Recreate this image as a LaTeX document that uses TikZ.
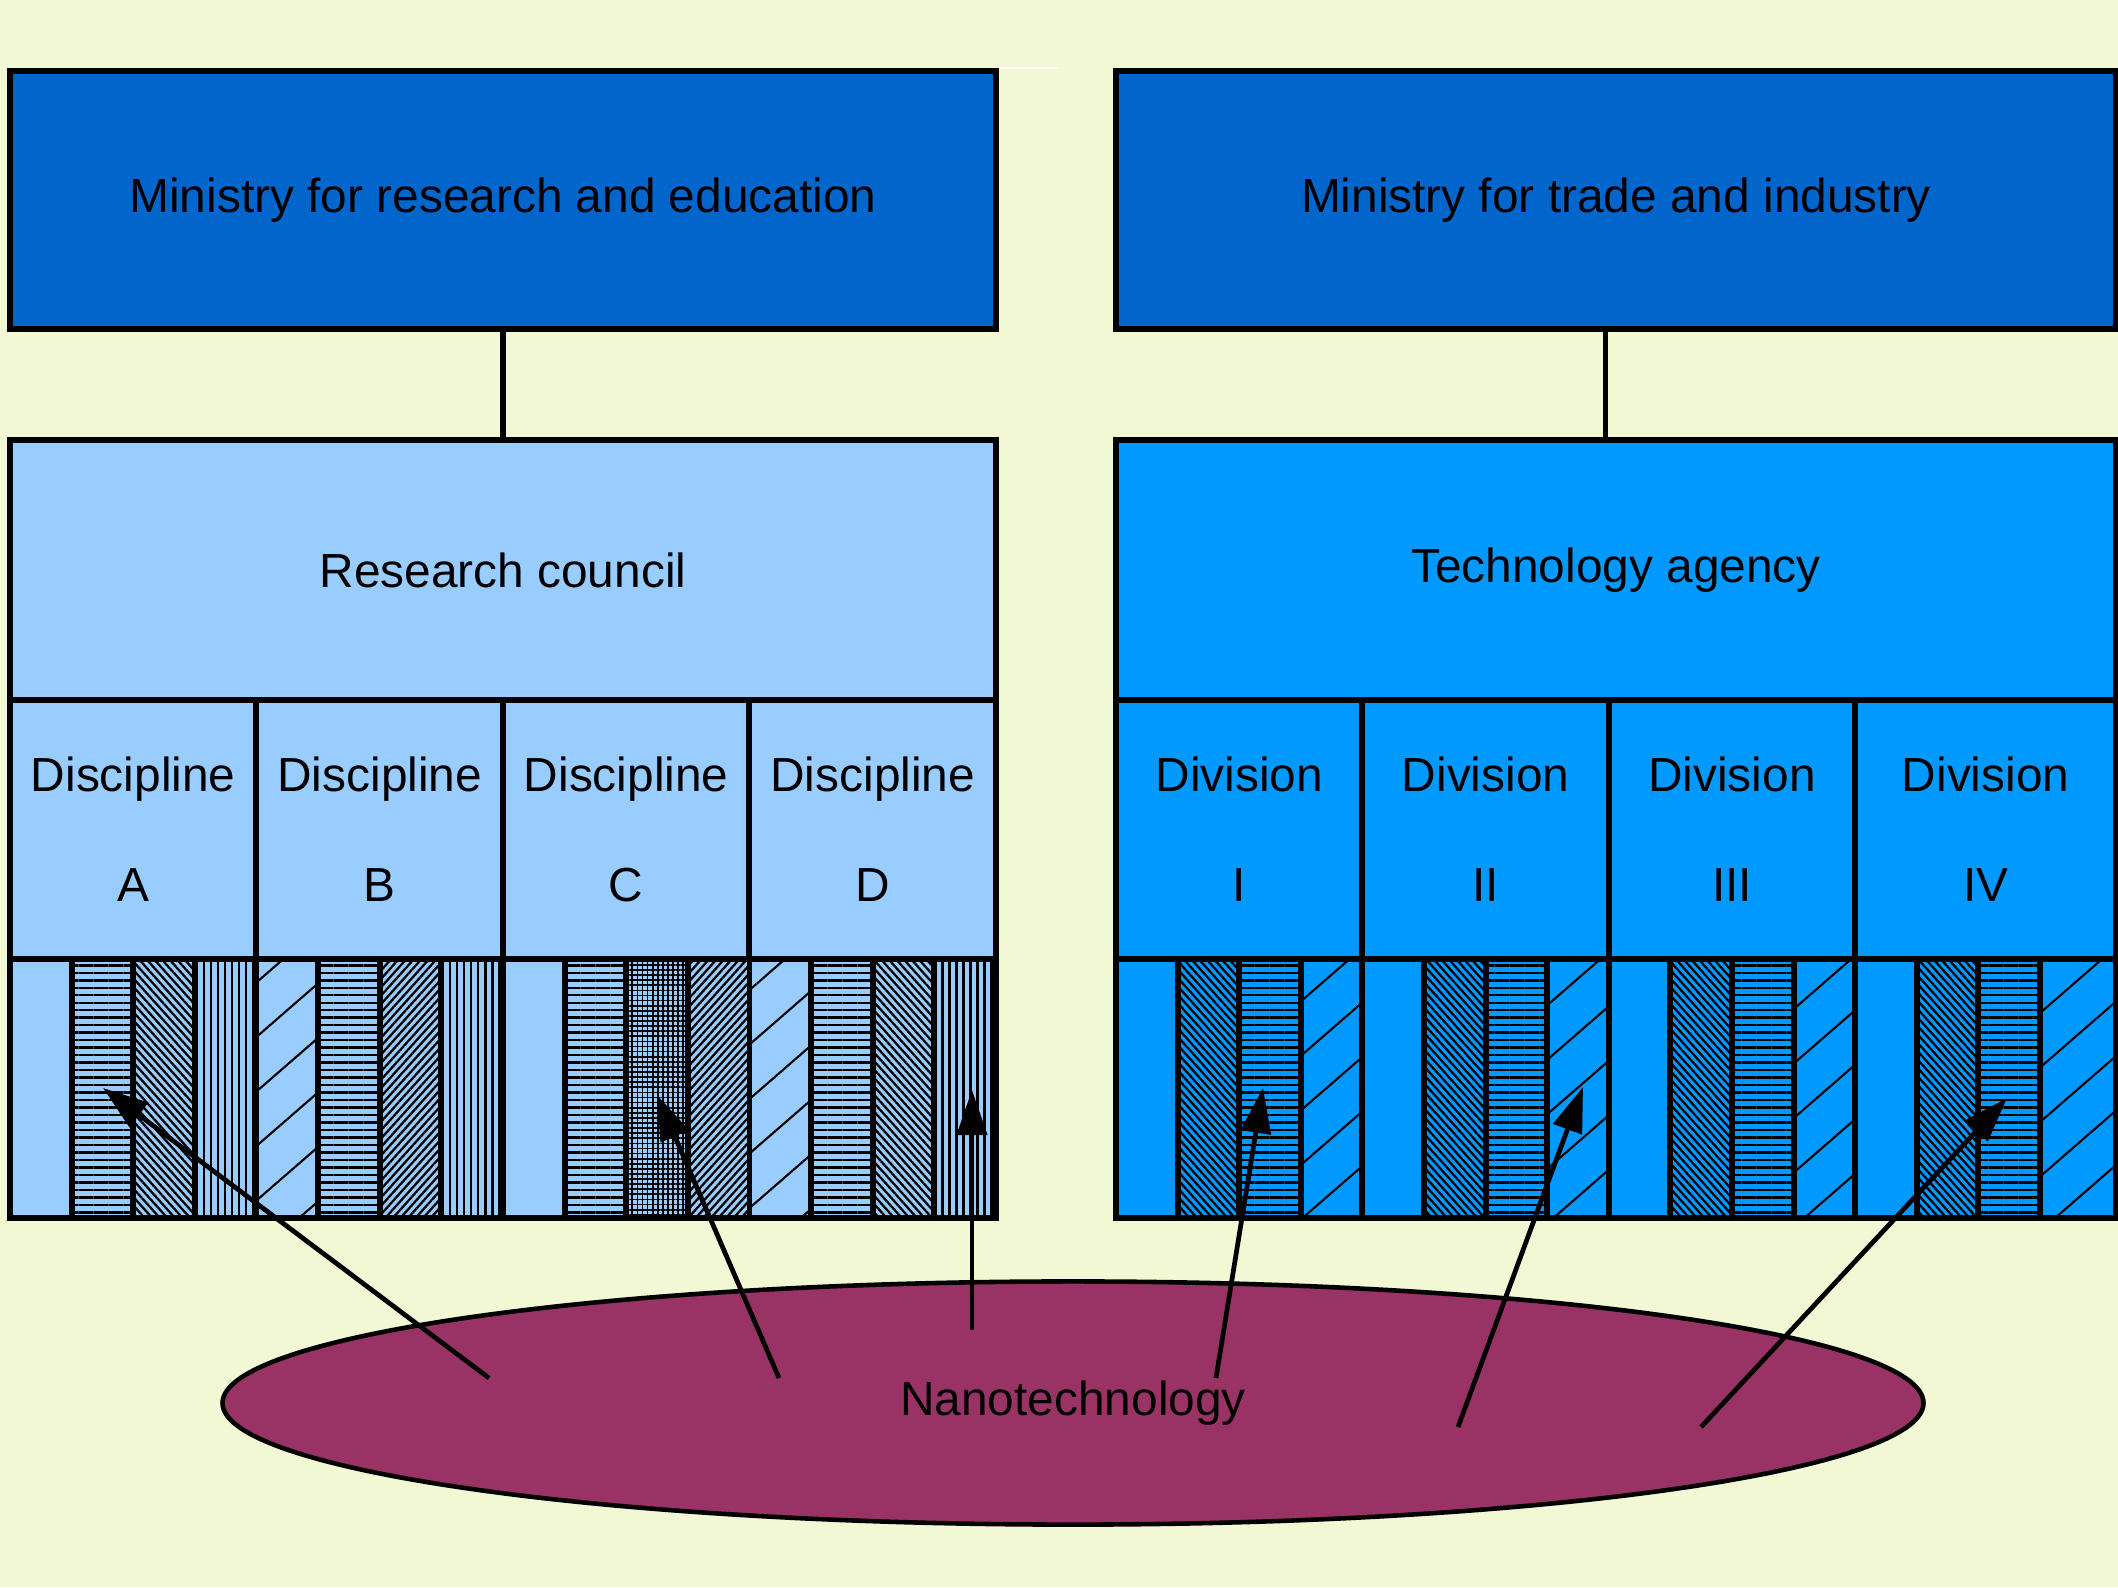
\documentclass[tikz,border=0pt]{standalone}
\usepackage{fontspec}
\setmainfont{Liberation Sans}
\usetikzlibrary{arrows.meta,shapes.geometric,patterns.meta}
\definecolor{paper}{HTML}{F2F7D4}
\definecolor{ministryblue}{HTML}{0066CC}
\definecolor{councilblue}{HTML}{99CCFF}
\definecolor{agencyblue}{HTML}{0099FF}
\definecolor{nanopurple}{HTML}{993366}

\begin{document}
\begin{tikzpicture}
                [
                x=0.01cm,y=-0.01cm,
                font=\fontsize{13.6}{31.3}\selectfont,
                box/.style={rectangle,draw,line width=1.7pt,inner sep=0pt,align=center},
                ministry/.style={box,fill=ministryblue,minimum height=2.58cm},
                office/.style={box,minimum height=2.6cm},
                unit/.style={box,minimum height=2.59cm},
                stripe/.style={box,minimum height=2.59cm,minimum width=0.616cm},
                plain/.style={},
                hl/.style={postaction={pattern={Lines[angle=0,distance=2.13pt,line width=0.7pt]}}},
                vl/.style={postaction={pattern={Lines[angle=90,distance=2pt,line width=0.7pt]}}},
                nwd/.style={postaction={pattern={Lines[angle=-48,distance=1.6pt,line width=0.65pt]}}},
                ned/.style={postaction={pattern={Lines[angle=48,distance=1.6pt,line width=0.65pt]}}},
                nes/.style={postaction={pattern={Lines[angle=41,distance=11.7pt,line width=0.6pt]}}},
                grid/.style={postaction={pattern={Hatch[angle=0,distance=1.45pt,line width=0.5pt]}}},
                nano/.style={ellipse,draw,line width=1.3pt,fill=nanopurple,minimum width=17cm,minimum height=2.43cm,inner sep=0pt},
                link/.style={line width=1.5pt},
                feed/.style={-{Triangle[length=12.8pt,width=8.5pt]},line width=1.35pt}
                ]
            \fill[paper] (0,0) rectangle (2118,1587);
            \useasboundingbox (0,0) rectangle (2118,1587);
            % ministries and agencies
            \node[ministry,minimum width=9.86cm] (min1) at (503,200) {Ministry for research and education};
            \node[ministry,minimum width=10cm] (min2) at (1616,200) {Ministry for trade and industry};
            \node[office,fill=councilblue,minimum width=9.86cm] (council) at (503,570) {Research council};
            \node[office,fill=agencyblue,minimum width=10cm] (agency) at (1616,570) {Technology agency};
            \draw[white,line width=0.5pt] (min1.north east) -- ++(60,0);
            % disciplines and divisions
            \node[unit,fill=councilblue,minimum width=2.465cm] (dA) at (133.25,829.5) {Discipline\\A};
            \node[unit,fill=councilblue,minimum width=2.465cm] (dB) at (379.75,829.5) {Discipline\\B};
            \node[unit,fill=councilblue,minimum width=2.465cm] (dC) at (626.25,829.5) {Discipline\\C};
            \node[unit,fill=councilblue,minimum width=2.465cm] (dD) at (872.75,829.5) {Discipline\\D};
            \node[unit,fill=agencyblue,minimum width=2.464cm] (dI) at (1239.2,829.5) {Division\\I};
            \node[unit,fill=agencyblue,minimum width=2.464cm] (dII) at (1485.6,829.5) {Division\\II};
            \node[unit,fill=agencyblue,minimum width=2.464cm] (dIII) at (1732,829.5) {Division\\III};
            \node[unit,fill=agencyblue,minimum width=2.608cm] (dIV) at (1985.6,829.5) {Division\\IV};
            \draw[link] (min1) -- (council);
            \draw[link] (min2.south -| dIII.west) -- (agency.north -| dIII.west);
            % fields
            \foreach \p [count=\i from 0] in {plain,hl,nwd,vl,nes,hl,ned,vl,plain,hl,grid,ned,nes,hl,nwd,vl}
                \node[stripe,fill=councilblue,\p] (l\i) at ({40.81+61.625*\i},1088.5) {};
            \foreach \p [count=\i from 0] in {plain,nwd,hl,nes,plain,nwd,hl,nes,plain,nwd,hl,nes,plain,nwd,hl}
                \node[stripe,fill=agencyblue,\p] (r\i) at ({1146.8+61.6*\i},1088.5) {};
            \node[stripe,fill=agencyblue,nes,minimum width=0.76cm] (r15) at (2078,1088.5) {};
            % nanotechnology
            \node[nano] (nano) at (1073,1403) {Nanotechnology};
            \coordinate (a1) at (489,1378);
            \coordinate (a2) at (779,1378);
            \coordinate (a3) at (972,1330);
            \coordinate (a4) at (1216,1378);
            \coordinate (a5) at (1458,1427);
            \coordinate (a6) at (1701,1427);
            \coordinate (t1) at (103,1088);
            \coordinate (t2) at (657,1095);
            \coordinate (t3) at (972,1090);
            \coordinate (t4) at (1263,1088);
            \coordinate (t5) at (1583,1087);
            \coordinate (t6) at (2007,1098);
            \foreach \k in {1,...,6}
                \draw[feed] (a\k) -- (t\k);
            \end{tikzpicture}
\end{document}
